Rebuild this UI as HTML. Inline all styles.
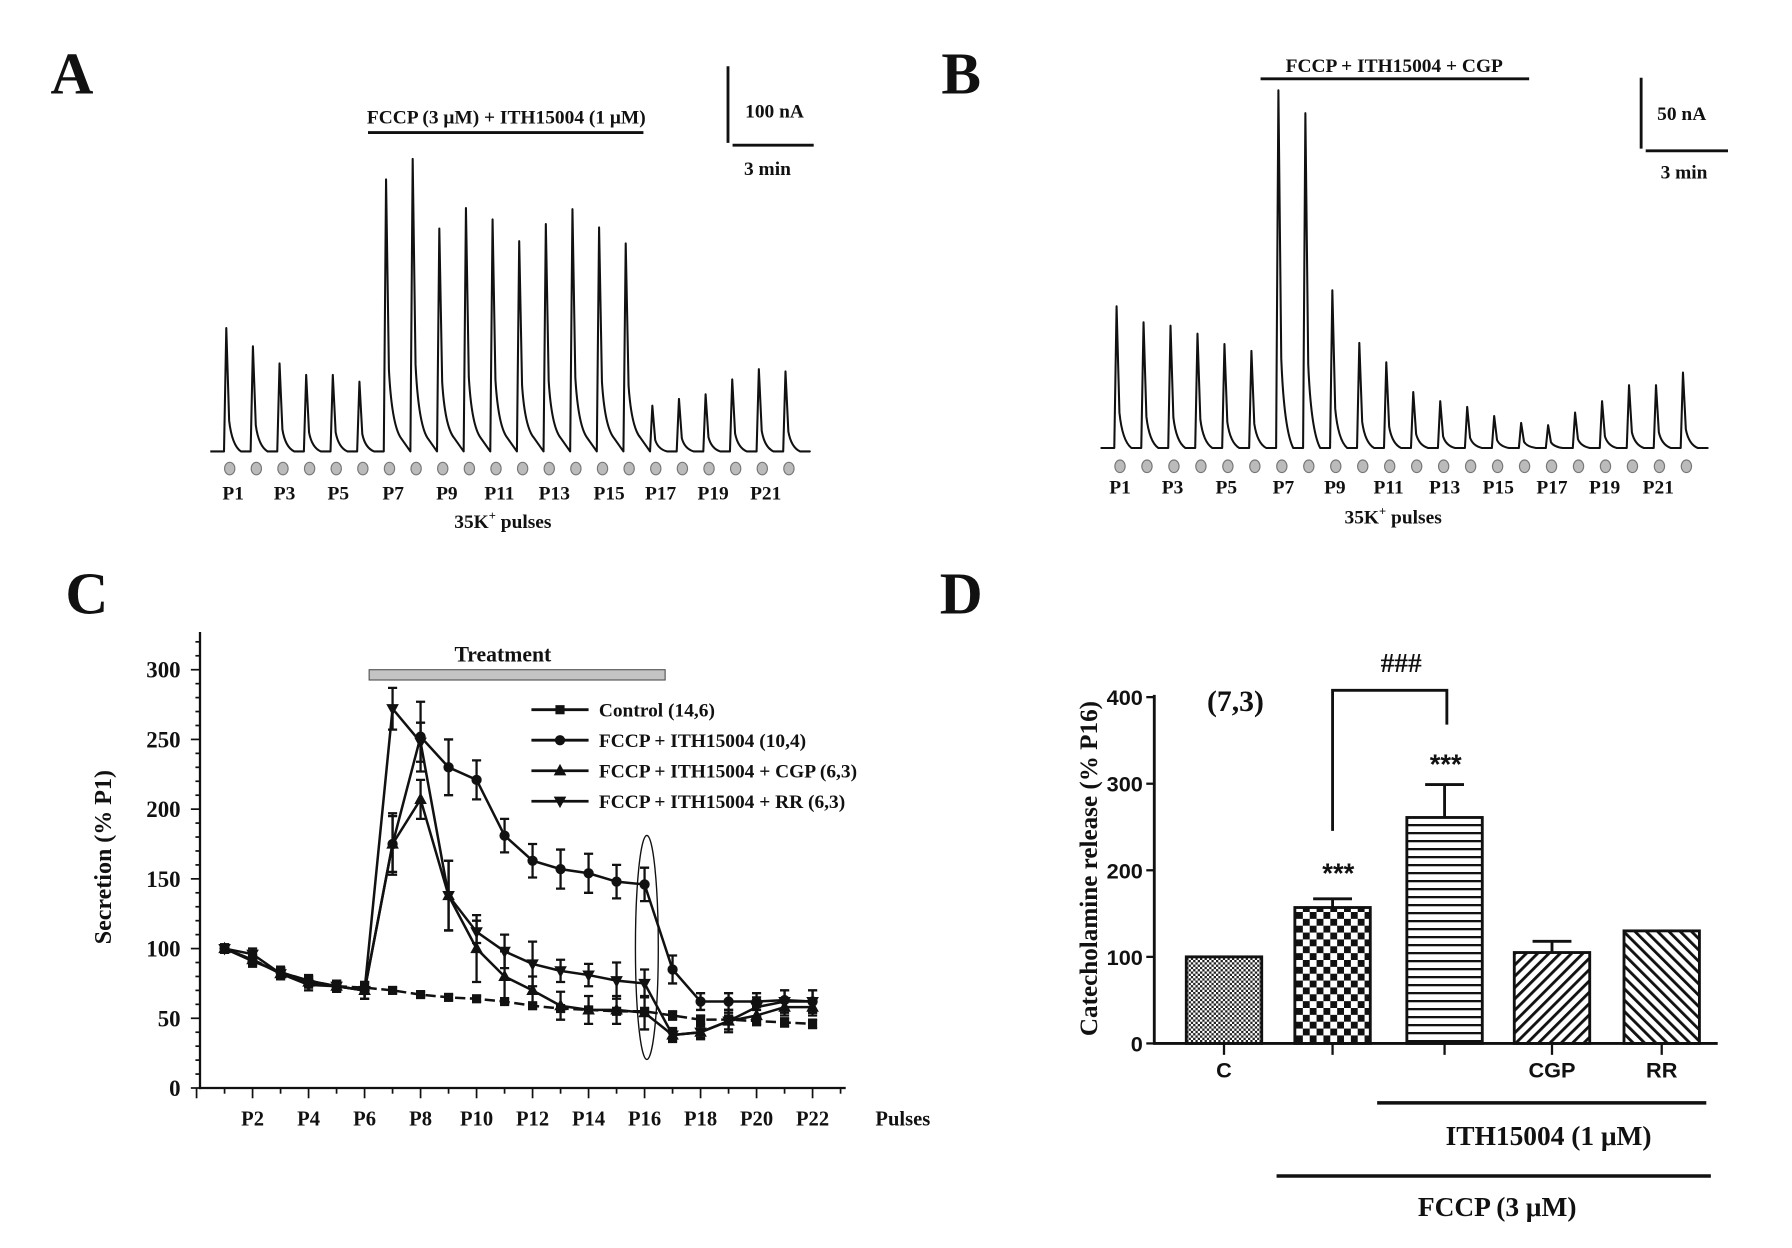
<!DOCTYPE html>
<html><head><meta charset="utf-8"><style>
html,body{margin:0;padding:0;background:#fff;}
svg{display:block;}
text{font-family:"Liberation Serif",serif;font-weight:bold;fill:#111;}
.sans{font-family:"Liberation Sans",sans-serif;}
</style></head><body>
<svg id="fig" width="1792" height="1248" viewBox="0 0 1568 1092" xmlns="http://www.w3.org/2000/svg">
<defs>
<pattern id="pC" width="4" height="4" patternUnits="userSpaceOnUse"><rect width="4" height="4" fill="#fff"/><rect width="2" height="2" fill="#222"/><rect x="2" y="2" width="2" height="2" fill="#222"/></pattern>
<pattern id="pChk" width="12" height="12" patternUnits="userSpaceOnUse"><rect width="12" height="12" fill="#fff"/><rect width="6" height="6" fill="#111"/><rect x="6" y="6" width="6" height="6" fill="#111"/></pattern>
<pattern id="pH" width="6" height="7" patternUnits="userSpaceOnUse"><rect width="6" height="7" fill="#fff"/><rect y="0" width="6" height="2" fill="#111"/></pattern>
<pattern id="pD1" width="7" height="7" patternUnits="userSpaceOnUse" patternTransform="rotate(45)"><rect width="7" height="7" fill="#fff"/><rect width="2.5" height="7" fill="#111"/></pattern>
<pattern id="pD2" width="7" height="7" patternUnits="userSpaceOnUse" patternTransform="rotate(-45)"><rect width="7" height="7" fill="#fff"/><rect width="2.5" height="7" fill="#111"/></pattern>
</defs>
<g id="gA"></g>
<g id="gB"></g>
<g id="gC"></g>
<g id="gD"></g>
</svg>
<script>
// Panel A / B trace peak tops (y in figure units, lower = taller)
const peaksA = [287,303,318,328,328,334,157,139,200,182,192,211,196,183,199,213,355,349,345,332,323,325];
const peaksB = [268,282,285,292,301,307,79,99,254,300,317,343,351,356,364,370,372,361,351,337,337,326];
// Panel C data
const pulses = [1,2,3,4,5,6,7,8,9,10,11,12,13,14,15,16,17,18,19,20,21,22];
const xTickLabels = ["P2","P4","P6","P8","P10","P12","P14","P16","P18","P20","P22"];
const yTicksC = [0,50,100,150,200,250,300];
const control = [100,92,83,77,73,72,70,67,65,64,62,59,57,56,55,55,52,49,49,48,47,46];
const controlErr = [2,3,3,3,3,3,2,2,2,2,2,2,2,2,2,2,3,3,3,3,3,3];
const fccp = [100,91,83,77,73,70,175,252,230,221,181,163,157,154,148,146,85,62,62,62,63,62];
const fccpErr = [3,4,4,4,4,6,20,25,20,14,12,12,14,14,12,12,10,6,6,6,7,8];
const cgp = [100,92,82,76,73,70,175,207,138,100,80,70,59,56,56,54,38,40,48,52,58,58];
const cgpErr = [3,4,4,4,4,6,22,14,25,24,18,10,10,10,10,12,5,5,8,6,6,6];
const rr = [100,96,82,74,73,70,272,248,138,112,98,89,84,81,77,75,38,40,48,58,62,62];
const rrErr = [3,4,4,4,4,6,15,14,25,8,12,16,8,8,13,10,4,4,6,7,8,8];
// Panel D data
const dCats = ["C","","","CGP","RR"];
const dVals = [100,157,261,105,130];
const dErr = [0,10,38,13,0];
const yTicksD = [0,100,200,300,400];

const NS="http://www.w3.org/2000/svg";
function mk(tag,attrs,parent){const e=document.createElementNS(NS,tag);for(const k in attrs)e.setAttribute(k,attrs[k]);parent.appendChild(e);return e;}
function txt(s,x,y,size,parent,anchor,cls){const t=mk('text',{x:x,y:y,'font-size':size,'text-anchor':anchor||'middle'},parent);if(cls)t.setAttribute('class',cls);t.textContent=s;return t;}

// ---------- traces ----------
function trace(g,peaks,x0,dx,base,dotY,labelXs,labelY,title,titleX,titleY,lineX1,lineX2,lineY,sbX,sbY1,sbY2,hx1,hx2,hy,sbLabel,sbLX,sbLY,minLY,xlabX,xlabY,letter,lx,raised){
  let d="M"+(x0-14)+" "+base;
  peaks.forEach((p,i)=>{
    const x=x0+i*dx;
    const b=(raised&&i>=6&&i<=15)?base-12:base;
    const h=base-p;
    d+=` L${x-2} ${base} L${x} ${p} L${x+2.5} ${b-h*0.25} Q${x+5} ${b-h*0.05} ${x+dx*0.55} ${b} L${x+dx-2} ${base}`;
  });
  d+=` L${x0+peaks.length*dx-6} ${base}`;
  const tr=mk('path',{d:d,fill:'none',stroke:'#111','stroke-width':1.8,'stroke-linejoin':'round'},g);
  
  
  peaks.forEach((p,i)=>{
    const c=mk('ellipse',{cx:x0+i*dx+3,cy:dotY,rx:4.5,ry:5.5,fill:'#bbb',stroke:'#777','stroke-width':1},g);
    
    
  });
  labelXs.forEach((x,i)=>{const t=txt('P'+(1+2*i),x,labelY,17,g);});
  const tt=txt(title,titleX,titleY,17,g);
  mk('line',{x1:lineX1,x2:lineX2,y1:lineY,y2:lineY,stroke:'#111','stroke-width':2.5},g);
  mk('line',{x1:sbX,x2:sbX,y1:sbY1,y2:sbY2,stroke:'#111','stroke-width':2.5},g);
  mk('line',{x1:hx1,x2:hx2,y1:hy,y2:hy,stroke:'#111','stroke-width':2.5},g);
  const s1=txt(sbLabel,sbLX,sbLY,17,g,'start');
  const s2=txt('3 min',minLY[0],minLY[1],17,g,'start');
  const xl=mk('text',{x:xlabX,y:xlabY,'font-size':17,'text-anchor':'middle'},g);
  
  xl.innerHTML='35K<tspan dy="-7" font-size="11">+</tspan><tspan dy="7"> pulses</tspan>';
  const L=txt(letter,lx,82,52,g,'middle');
}
trace(document.getElementById('gA'),peaksA,198,23.3,395,410,[204,249,296,344,391,437,485,533,578,624,670],437,
 'FCCP (3 μM) + ITH15004 (1 μM)',443,108,322,563,116,637,58,125,641,712,127,'100 nA',652,103,[651,153],440,462,'A',63,true);
trace(document.getElementById('gB'),peaksB,977,23.6,392,408,[980,1026,1073,1123,1168,1215,1264,1311,1358,1404,1451],432,
 'FCCP + ITH15004 + CGP',1220,63,1103,1338,69,1436,68,130,1440,1512,132,'50 nA',1450,105,[1453,156],1219,458,'B',841,false);

// ---------- Panel C ----------
(function(){
const g=document.getElementById('gC');
const X=p=>196.5+(p-1)*24.5;
const Y=v=>952-v*1.22;
txt('C',76,537,52,g);
mk('line',{x1:175,x2:175,y1:553,y2:953,stroke:'#111','stroke-width':2},g);
mk('line',{x1:174,x2:740,y1:952,y2:952,stroke:'#111','stroke-width':2},g);
for(let v=0;v<=320;v+=10){const big=v%50===0;mk('line',{x1:big?167:171,x2:175,y1:Y(v),y2:Y(v),stroke:'#111','stroke-width':1.5},g);}
yTicksC.forEach(v=>{const t=txt(String(v),158,Y(v)+7,20,g,'end');});
for(let p=0;p<=23;p++){mk('line',{x1:X(p),x2:X(p),y1:952,y2:p%2===0?961:957,stroke:'#111','stroke-width':1.5},g);}
xTickLabels.forEach((s,i)=>{const t=txt(s,X(2+2*i),985,18,g);});
txt('Pulses',790,985,18,g);
const yt=txt('Secretion (% P1)',0,0,21,g);yt.setAttribute('transform','translate(97,750) rotate(-90)');

const tb=mk('rect',{x:323,y:586,width:259,height:9,fill:'#c4c4c4',stroke:'#555','stroke-width':1},g);

txt('Treatment',440,579,19,g);
const series=[[control,controlErr,'sq','Control (14,6)'],[fccp,fccpErr,'ci','FCCP + ITH15004 (10,4)'],[cgp,cgpErr,'up','FCCP + ITH15004 + CGP (6,3)'],[rr,rrErr,'dn','FCCP + ITH15004 + RR (6,3)']];
function marker(kind,x,y,parent){
  let e;
  if(kind==='sq')e=mk('rect',{x:x-4,y:y-4,width:8,height:8,fill:'#111'},parent);
  else if(kind==='ci')e=mk('circle',{cx:x,cy:y,r:4.5,fill:'#111'},parent);
  else if(kind==='up')e=mk('polygon',{points:`${x},${y-6} ${x-5.5},${y+4} ${x+5.5},${y+4}`,fill:'#111'},parent);
  else e=mk('polygon',{points:`${x},${y+6} ${x-5.5},${y-4} ${x+5.5},${y-4}`,fill:'#111'},parent);
  return e;
}
series.forEach((s,si)=>{
  const sg=mk('g',{},g);
  
  
  const vals=s[0],err=s[1];
  let d='';vals.forEach((v,i)=>{d+=(i?'L':'M')+X(pulses[i])+' '+Y(v)+' ';});
  mk('path',{d:d,fill:'none',stroke:'#111','stroke-width':2.2,'stroke-dasharray':si===0?'9 4':'none'},sg);
  vals.forEach((v,i)=>{
    const x=X(pulses[i]);
    mk('path',{d:`M${x} ${Y(v-err[i])}V${Y(v+err[i])}M${x-4} ${Y(v+err[i])}H${x+4}M${x-4} ${Y(v-err[i])}H${x+4}`,stroke:'#111','stroke-width':2,fill:'none'},sg);
    const m=marker(s[2],x,Y(v),sg);
    
    
  });
  const ly=621+si*26.7;
  const lg=mk('g',{},g);
  
  
  mk('line',{x1:465,x2:515,y1:ly,y2:ly,stroke:'#111','stroke-width':2.5},lg);
  marker(s[2],490,ly,lg);
  txt(s[3],524,ly+6,17,lg,'start');
});
const el=mk('ellipse',{cx:566,cy:829,rx:10,ry:98,fill:'none',stroke:'#111','stroke-width':1.2},g);

})();

// ---------- Panel D ----------
(function(){
const g=document.getElementById('gD');
const Y=v=>913-v*0.7575;
const cx=[1071,1166,1264,1358,1454];
const fills=['url(#pC)','url(#pChk)','url(#pH)','url(#pD1)','url(#pD2)'];
txt('D',841,537,52,g);
mk('line',{x1:1010,x2:1010,y1:608,y2:914,stroke:'#111','stroke-width':2.5},g);
mk('line',{x1:1009,x2:1503,y1:913,y2:913,stroke:'#111','stroke-width':2.5},g);
yTicksD.forEach(v=>{mk('line',{x1:1003,x2:1010,y1:Y(v),y2:Y(v),stroke:'#111','stroke-width':2},g);
  const t=txt(String(v),1000,Y(v)+7,19,g,'end','sans');});
const yt=txt('Catecholamine release (% P16)',0,0,22,g);yt.setAttribute('transform','translate(960,760) rotate(-90)');

dVals.forEach((v,i)=>{
  const b=mk('rect',{x:cx[i]-33,y:Y(v),width:66,height:Y(0)-Y(v),fill:fills[i],stroke:'#111','stroke-width':2.5},g);
  
  
  if(dErr[i]>0){mk('path',{d:`M${cx[i]} ${Y(v)}V${Y(v+dErr[i])}M${cx[i]-17} ${Y(v+dErr[i])}H${cx[i]+17}`,stroke:'#111','stroke-width':2.5,fill:'none'},g);}
  mk('line',{x1:cx[i],x2:cx[i],y1:913,y2:923,stroke:'#111','stroke-width':2},g);
  if(dCats[i]){const t=txt(dCats[i],cx[i],943,19,g,'middle','sans');}
});
txt('(7,3)',1081,622,26,g);
const br=mk('path',{d:'M1166 727V604H1266V634',fill:'none',stroke:'#111','stroke-width':2.5},g);

txt('###',1226,588,24,g,'middle');
txt('***',1171,772,24,g,'middle','sans');
txt('***',1265,677,24,g,'middle','sans');
mk('line',{x1:1205,x2:1493,y1:965,y2:965,stroke:'#111','stroke-width':3},g);
txt('ITH15004 (1 μM)',1355,1002,24,g);
mk('line',{x1:1117,x2:1497,y1:1029,y2:1029,stroke:'#111','stroke-width':3},g);
txt('FCCP (3 μM)',1310,1064,24,g);
})();
</script>
</body></html>
